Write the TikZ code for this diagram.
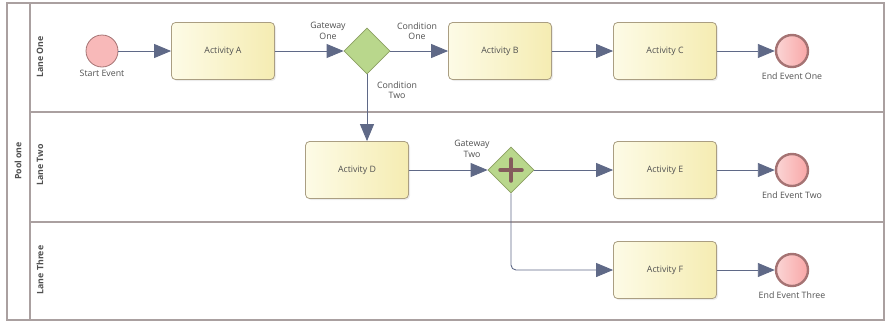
\documentclass[tikz,border=0pt]{standalone}
\usepackage{fontspec}
\setmainfont{Open Sans}
\usetikzlibrary{positioning,shapes.geometric,arrows.meta,shadows}
\definecolor{laneline}{RGB}{170,160,160}
\definecolor{actline}{RGB}{170,158,130}
\definecolor{actleft}{RGB}{253,251,230}
\definecolor{actright}{RGB}{245,236,178}
\definecolor{evfill}{RGB}{248,185,185}
\definecolor{evline}{RGB}{165,115,115}
\definecolor{gwfill}{RGB}{185,215,140}
\definecolor{gwline}{RGB}{140,160,100}
\definecolor{flowc}{RGB}{95,105,135}
\definecolor{txt}{RGB}{80,80,80}

\tikzset{
  lane/.style={draw=laneline, line width=1.6pt},
  lbl/.style={text=txt, font=\fontsize{8.8}{10.5}\selectfont, align=center, inner sep=1pt},
  lanelbl/.style={lbl, font=\fontsize{8.8}{10.5}\selectfont\bfseries, rotate=90},
  activity/.style={draw=actline, line width=0.8pt, rounded corners=4pt,
    left color=actleft, right color=actright, minimum width=103pt,
    minimum height=57pt, text=txt, font=\fontsize{8.8}{10.5}\selectfont,
    drop shadow={shadow xshift=1.5pt, shadow yshift=-1.5pt, fill=black!15}},
  startev/.style={circle, draw=evline, line width=0.8pt, fill=evfill,
    minimum size=32pt, inner sep=0pt},
  endev/.style={circle, draw=evline, line width=2.4pt,
    left color=evfill!60!white, right color=evfill!90!red,
    minimum size=32pt, inner sep=0pt},
  gateway/.style={diamond, aspect=1, draw=gwline, line width=0.8pt,
    fill=gwfill, minimum size=46pt, inner sep=0pt},
  plusbar/.style={draw=evline!80!black, line width=3.5pt, line cap=round},
  flow/.style={draw=flowc, line width=0.9pt,
    -{Triangle[length=17pt, width=14pt]}}
}

\begin{document}
\begin{tikzpicture}[x=1pt, y=-1pt]
\useasboundingbox (0,0) rectangle (885,325);
% pool and lanes
\draw[lane] (7,3) rectangle (884,320);
\draw[lane] (30,3) -- (30,320);
\draw[lane] (30,112) -- (884,112);
\draw[lane] (30,222) -- (884,222);
\node[lanelbl] (pool) at (18,161) {Pool one};
\node[lanelbl] (laneone) at (40,57) {Lane One};
\node[lanelbl] (lanetwo) at (40,165) {Lane Two};
\node[lanelbl] (lanethree) at (40,270) {Lane Three};

% lane one
\node[startev] (start) at (102,51) {};
\node[lbl, below=2pt of start] (startlbl) {Start Event};
\node[activity] (a) at (223,51) {Activity A};
\node[gateway] (gw1) at (367,51) {};
\node[lbl] (gw1lbl) at (328,31) {Gateway\\One};
\node[activity] (b) at (500,51) {Activity B};
\node[activity] (c) at (665,51) {Activity C};
\node[endev] (end1) at (792,51) {};
\node[lbl, below=3pt of end1] (end1lbl) {End Event One};
\node[lbl] (condone) at (417,31) {Condition\\One};
\node[lbl] (condtwo) at (397,90) {Condition\\Two};

% lane two
\node[activity] (d) at (357,170) {Activity D};
\node[gateway] (gw2) at (511,170) {};
\draw[plusbar] ([xshift=-11pt]gw2.center) -- ([xshift=11pt]gw2.center);
\draw[plusbar] ([yshift=-11pt]gw2.center) -- ([yshift=11pt]gw2.center);
\node[lbl] (gw2lbl) at (472,149) {Gateway\\Two};
\node[activity] (e) at (665,170) {Activity E};
\node[endev] (end2) at (792,170) {};
\node[lbl, below=3pt of end2] (end2lbl) {End Event Two};

% lane three
\node[activity] (f) at (665,270) {Activity F};
\node[endev] (end3) at (792,270) {};
\node[lbl, below=3pt of end3] (end3lbl) {End Event Three};

% sequence flows
\draw[flow] (start) -- (a);
\draw[flow] (a) -- (gw1);
\draw[flow] (gw1) -- (b);
\draw[flow] (b) -- (c);
\draw[flow] (c) -- (end1);
\draw[flow] (gw1) -- (gw1 |- d.north);
\draw[flow] (d) -- (gw2);
\draw[flow] (gw2) -- (e);
\draw[flow] (e) -- (end2);
\draw[flow, rounded corners=5pt] (gw2) |- (f);
\draw[flow] (f) -- (end3);
\end{tikzpicture}
\end{document}
